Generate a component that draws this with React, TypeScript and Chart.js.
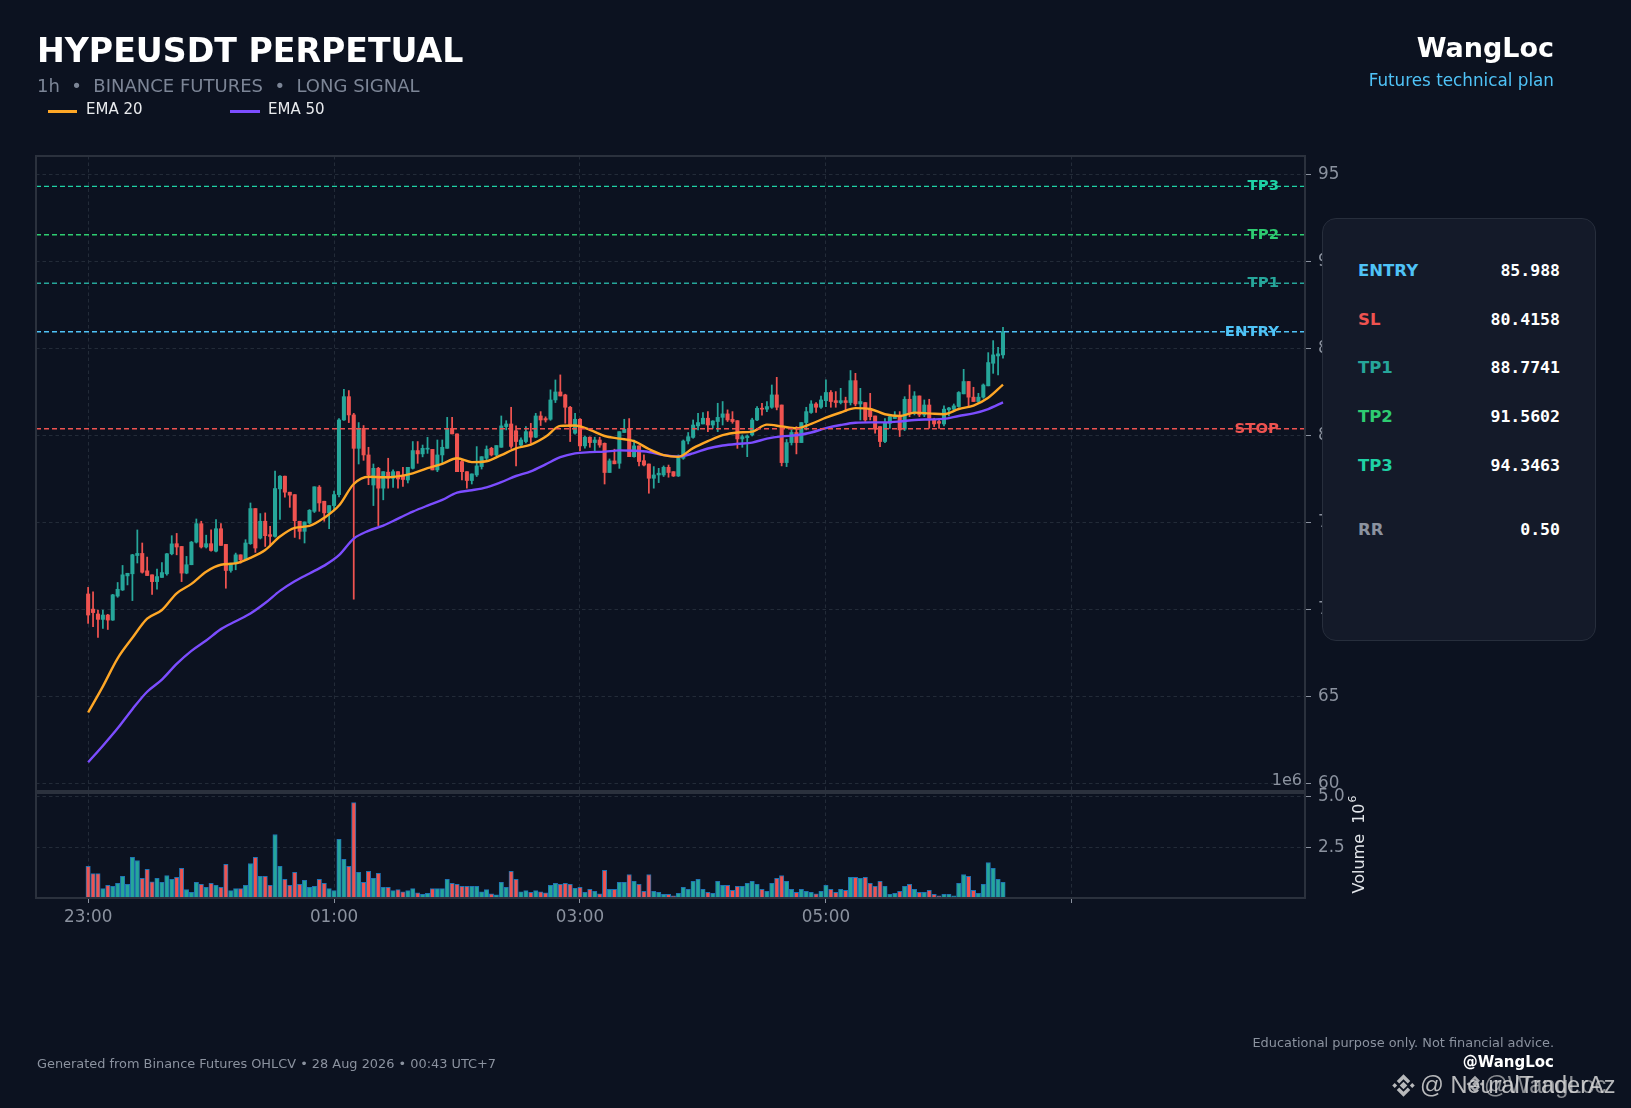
import React, { useEffect, useRef } from 'react';
import { Chart, registerables } from 'chart.js';

Chart.register(...registerables);

// ---------------- DATA ----------------
const OPEN = [
  70.92, 70.05, 69.77, 69.46, 69.71, 69.42, 70.8, 71.15, 71.96, 72.08,
  73.13, 73.25, 72.25, 72.02, 71.63, 71.87, 72.08, 73.23, 73.81, 73.65,
  72.12, 72.6, 73.9, 74.96, 73.62, 73.81, 73.38, 74.67, 73.77, 72.27,
  72.69, 73.17, 72.88, 73.81, 75.83, 74.13, 75.1, 74.33, 74.23, 76.96,
  77.69, 76.77, 76.63, 75.1, 74.52, 75.0, 75.67, 77.06, 76.25, 75.58,
  76.0, 76.63, 80.92, 82.26, 81.21, 79.29, 80.44, 78.91, 77.18, 78.14,
  77.0, 77.92, 77.57, 77.95, 77.7, 77.47, 78.14, 79.16, 78.97, 79.24,
  79.23, 78.05, 78.91, 79.29, 80.44, 80.12, 78.53, 77.95, 77.44, 77.76,
  78.24, 78.72, 79.29, 78.91, 79.35, 80.54, 80.69, 80.3, 79.48, 79.68,
  80.25, 79.93, 81.15, 81.0, 80.96, 82.07, 82.53, 82.36, 81.65, 80.16,
  80.96, 79.43, 79.93, 79.62, 79.77, 79.58, 77.9, 78.57, 78.43, 80.2,
  80.44, 78.81, 79.43, 78.58, 78.39, 77.57, 77.76, 77.76, 78.2, 77.95,
  77.7, 78.72, 79.71, 79.92, 80.58, 80.69, 81.02, 80.63, 80.83, 81.07,
  81.27, 80.96, 80.88, 79.83, 79.9, 80.06, 80.92, 81.59, 81.54, 81.65,
  82.36, 81.78, 78.47, 79.62, 80.2, 79.62, 80.77, 81.35, 81.84, 81.65,
  82.03, 82.5, 82.03, 81.92, 82.03, 81.92, 83.18, 81.84, 81.92, 81.59,
  81.15, 80.54, 79.68, 80.73, 81.0, 81.11, 80.39, 82.11, 81.3, 82.3,
  81.21, 81.78, 80.96, 80.83, 80.69, 81.5, 81.54, 81.69, 82.42, 83.13,
  82.23, 81.98, 82.23, 82.88, 84.18, 84.6, 84.66,
];
const HIGH = [
  71.3, 71.05, 70.0, 70.0, 69.75, 70.9, 71.58, 72.56, 72.11, 73.2,
  74.6, 73.85, 73.04, 72.02, 72.35, 72.73, 73.25, 74.27, 74.4, 73.65,
  73.08, 73.94, 75.23, 75.1, 74.3, 74.6, 75.19, 74.96, 73.77, 72.69,
  73.27, 73.17, 74.04, 76.15, 75.83, 75.54, 75.58, 74.81, 77.98, 77.73,
  77.69, 76.77, 76.63, 75.1, 75.06, 75.77, 77.08, 77.15, 76.25, 76.0,
  76.83, 81.0, 82.68, 82.61, 81.3, 80.77, 80.6, 79.35, 78.39, 78.2,
  77.95, 78.72, 78.05, 77.95, 78.2, 78.2, 79.68, 79.68, 79.48, 79.92,
  79.23, 79.77, 79.77, 81.07, 81.07, 80.12, 78.6, 77.95, 77.82, 79.39,
  78.81, 79.43, 79.35, 79.45, 81.15, 80.88, 81.65, 80.58, 79.9, 80.54,
  80.73, 81.3, 81.4, 81.1, 82.65, 83.22, 83.51, 82.4, 81.7, 81.3,
  81.0, 80.0, 79.95, 79.93, 79.93, 79.6, 78.68, 79.24, 80.25, 80.96,
  81.0, 79.77, 79.43, 78.91, 78.39, 78.24, 78.14, 78.28, 78.33, 77.95,
  78.91, 79.77, 80.2, 80.92, 81.3, 81.34, 81.4, 80.88, 81.88, 81.98,
  81.5, 81.4, 80.88, 80.06, 80.06, 81.02, 81.69, 81.88, 81.98, 82.93,
  83.37, 81.78, 79.8, 80.35, 80.54, 80.77, 81.65, 82.03, 81.92, 82.3,
  83.22, 82.61, 82.55, 82.74, 82.23, 83.76, 83.6, 82.74, 81.92, 82.45,
  81.15, 80.54, 81.0, 81.21, 81.4, 81.4, 82.26, 82.93, 82.55, 82.3,
  82.07, 82.11, 81.02, 81.02, 81.73, 81.65, 81.84, 82.55, 83.83, 83.13,
  82.8, 82.45, 82.99, 84.79, 85.48, 85.1, 86.25,
];
const LOW = [
  69.23, 69.04, 68.42, 68.94, 68.88, 69.4, 70.73, 71.12, 71.44, 70.54,
  72.7, 72.12, 71.98, 70.9, 71.19, 71.87, 72.0, 73.17, 73.17, 71.63,
  72.08, 72.6, 73.85, 73.56, 73.56, 73.38, 73.33, 73.71, 71.25, 72.17,
  72.31, 72.69, 72.85, 73.77, 73.31, 74.08, 73.65, 73.65, 74.19, 75.2,
  76.48, 75.9, 74.17, 74.08, 73.85, 74.95, 75.6, 75.67, 75.1, 74.67,
  75.7, 76.5, 80.9, 80.77, 70.62, 78.39, 78.6, 77.2, 76.0, 74.85,
  76.33, 77.0, 77.05, 77.0, 77.1, 77.3, 78.1, 78.43, 78.8, 79.0,
  78.05, 77.95, 78.4, 79.29, 80.12, 77.95, 77.47, 77.0, 77.24, 77.67,
  78.1, 78.62, 78.85, 78.85, 79.35, 80.35, 79.29, 78.28, 79.4, 79.6,
  79.58, 79.9, 80.6, 80.8, 80.9, 81.92, 82.3, 80.73, 79.68, 80.1,
  79.16, 79.3, 79.35, 79.1, 79.35, 77.24, 77.9, 78.4, 78.14, 80.2,
  78.81, 78.78, 78.28, 78.28, 76.71, 77.0, 77.32, 77.67, 77.63, 77.67,
  77.67, 78.66, 79.54, 79.87, 80.35, 80.69, 80.25, 80.44, 80.25, 80.63,
  80.83, 80.73, 79.29, 79.35, 78.81, 80.0, 80.88, 81.2, 81.4, 81.59,
  81.5, 78.28, 78.24, 79.48, 78.97, 79.62, 80.35, 81.3, 81.35, 81.59,
  81.69, 81.65, 81.65, 81.84, 81.4, 81.78, 81.73, 80.92, 80.83, 80.92,
  80.16, 79.39, 79.62, 80.44, 81.0, 79.97, 80.31, 81.11, 81.21, 81.11,
  81.11, 80.44, 80.54, 80.44, 80.58, 81.15, 81.46, 81.65, 82.42, 81.65,
  81.98, 81.92, 82.17, 82.88, 83.6, 83.51, 84.47,
];
const CLOSE = [
  69.71, 69.85, 69.46, 69.71, 69.42, 70.87, 71.19, 72.02, 72.11, 73.17,
  73.25, 72.17, 71.98, 71.63, 71.92, 72.15, 73.23, 73.8, 73.62, 72.12,
  72.6, 73.9, 74.96, 73.62, 73.81, 73.42, 74.67, 73.71, 72.27, 72.69,
  73.17, 72.88, 73.85, 75.83, 73.56, 75.1, 74.27, 74.23, 76.98, 77.69,
  76.77, 76.6, 75.13, 74.52, 75.06, 75.73, 77.08, 76.15, 75.58, 76.0,
  76.63, 80.92, 82.26, 81.21, 79.29, 80.44, 78.91, 77.76, 78.14, 77.0,
  77.95, 77.57, 77.95, 77.53, 77.5, 78.2, 79.16, 78.97, 79.29, 79.3,
  78.05, 78.91, 79.35, 80.44, 80.12, 77.95, 77.95, 77.44, 77.82, 78.28,
  78.81, 79.24, 78.91, 79.45, 80.58, 80.69, 79.4, 79.68, 79.77, 80.25,
  79.93, 81.15, 80.92, 80.92, 82.07, 82.53, 82.3, 81.65, 80.54, 80.96,
  79.43, 79.93, 79.62, 79.77, 79.48, 77.9, 78.57, 78.4, 80.25, 80.39,
  78.81, 79.43, 78.53, 78.33, 77.57, 77.76, 77.86, 78.2, 77.9, 77.7,
  78.72, 79.71, 79.96, 80.63, 80.77, 81.02, 80.63, 80.86, 81.07, 81.27,
  80.92, 80.83, 79.83, 79.96, 80.0, 80.92, 81.59, 81.54, 81.69, 82.36,
  81.65, 78.47, 79.62, 80.2, 79.62, 80.77, 81.4, 81.84, 81.65, 82.07,
  82.5, 81.98, 81.92, 82.03, 81.92, 83.18, 81.84, 81.98, 80.92, 81.11,
  80.39, 79.68, 80.73, 81.11, 81.11, 80.35, 82.11, 81.27, 82.3, 81.21,
  81.78, 81.02, 80.69, 80.73, 81.54, 81.61, 81.73, 82.5, 83.13, 82.23,
  81.98, 82.23, 82.93, 84.22, 84.66, 84.72, 86.0,
];
const VOLUME_M = [
  1.56, 1.2, 1.2, 0.46, 0.62, 0.57, 0.72, 1.07, 0.67, 2.0,
  1.85, 0.97, 1.41, 0.8, 0.97, 0.77, 1.11, 0.92, 1.02, 1.46,
  0.41, 0.28, 0.77, 0.67, 0.52, 0.72, 0.62, 0.52, 1.66, 0.36,
  0.46, 0.46, 0.62, 1.7, 2.0, 1.07, 1.07, 0.62, 3.13, 1.56,
  0.92, 0.62, 1.26, 0.67, 0.87, 0.52, 0.57, 0.92, 0.72, 0.46,
  0.36, 2.89, 1.9, 1.56, 4.7, 1.26, 0.77, 1.31, 0.97, 1.21,
  0.52, 0.52, 0.36, 0.41, 0.31, 0.36, 0.46, 0.26, 0.18, 0.23,
  0.46, 0.46, 0.46, 0.92, 0.72, 0.67, 0.57, 0.57, 0.57, 0.57,
  0.31, 0.41, 0.21, 0.16, 0.77, 0.52, 1.31, 0.92, 0.31, 0.36,
  0.28, 0.36, 0.31, 0.26, 0.62, 0.72, 0.67, 0.72, 0.67, 0.48,
  0.52, 0.28, 0.43, 0.33, 0.21, 1.36, 0.43, 0.43, 0.77, 0.77,
  1.16, 0.82, 0.67, 0.33, 1.16, 0.33, 0.28, 0.18, 0.18, 0.11,
  0.23, 0.52, 0.43, 0.82, 0.92, 0.43, 0.28, 0.23, 0.82, 0.62,
  0.62, 0.38, 0.57, 0.57, 0.72, 0.82, 0.67, 0.43, 0.33, 0.72,
  0.97, 1.11, 0.82, 0.43, 0.28, 0.43, 0.33, 0.28, 0.21, 0.33,
  0.62, 0.43, 0.28, 0.43, 0.38, 1.02, 1.02, 0.97, 1.02, 0.72,
  0.57, 0.82, 0.57, 0.18, 0.23, 0.33, 0.57, 0.67, 0.43, 0.28,
  0.28, 0.38, 0.18, 0.11, 0.18, 0.18, 0.11, 0.72, 1.16, 1.07,
  0.38, 0.23, 0.67, 1.75, 1.46, 0.92, 0.77,
];
const EMA_X = [
  0, 3, 6, 9, 12, 15, 18, 21, 24, 27, 30, 33, 36, 39, 42, 45, 48, 51, 54, 57,
  60, 63, 66, 69, 72, 75, 78, 81, 84, 87, 90, 93, 96, 99, 102, 105, 108, 111, 114, 117,
  120, 123, 126, 129, 132, 135, 138, 141, 144, 147, 150, 153, 156, 159, 162, 165, 168, 171, 174, 177,
  180, 183, 186,
];
const EMA20 = [
  64.11, 65.61, 67.22, 68.4, 69.5, 70.0, 70.96, 71.5, 72.2, 72.6,
  72.68, 73.0, 73.45, 74.22, 74.72, 74.83, 75.3, 76.0, 77.24, 77.66,
  77.63, 77.68, 77.85, 78.15, 78.4, 78.72, 78.5, 78.55, 78.9, 79.29,
  79.5, 79.95, 80.58, 80.6, 80.35, 80.0, 79.85, 79.7, 79.25, 78.9,
  78.8, 79.3, 79.7, 80.05, 80.2, 80.25, 80.65, 80.55, 80.44, 80.7,
  81.05, 81.35, 81.6, 81.55, 81.25, 81.15, 81.34, 81.3, 81.25, 81.55,
  81.75, 82.2, 82.95,
];
const EMA50 = [
  61.25, 62.2, 63.2, 64.3, 65.3, 66.0, 66.9, 67.65, 68.25, 68.9,
  69.35, 69.8, 70.4, 71.1, 71.65, 72.1, 72.55, 73.15, 74.1, 74.55,
  74.85, 75.25, 75.65, 76.0, 76.33, 76.75, 76.88, 77.05, 77.35, 77.7,
  77.97, 78.37, 78.78, 79.0, 79.07, 79.1, 79.17, 79.15, 79.08, 78.9,
  78.82, 79.0, 79.28, 79.45, 79.55, 79.62, 79.85, 79.98, 80.04, 80.2,
  80.45, 80.63, 80.76, 80.78, 80.78, 80.83, 80.92, 80.95, 80.98, 81.15,
  81.3, 81.55, 81.93,
];
const PRICE_TICKS = [60, 65, 70, 75, 80, 85, 90, 95];
const VOLUME_TICKS = [2.5, 5.0];
const X_TICK_POS = [0, 50, 100, 150, 200];
const X_TICK_LABELS = ['23:00', '01:00', '03:00', '05:00', ''];
const LEVEL_NAMES = ['TP3', 'TP2', 'TP1', 'ENTRY', 'STOP'];
const LEVEL_VALUES = [94.3463, 91.5602, 88.7741, 85.988, 80.4158];
const PANEL_LABELS = ['ENTRY', 'SL', 'TP1', 'TP2', 'TP3', 'RR'];
const PANEL_VALUES = ['85.988', '80.4158', '88.7741', '91.5602', '94.3463', '0.50'];

// axis ranges
const X_MIN = -10.6;
const X_MAX = 247.4;
const PRICE_MIN = 59.54;
const PRICE_MAX = 96.09;
const VOL_MIN = 0;
const VOL_MAX = 5.225;

// ---------------- STYLE ----------------
const BG = '#0c1220';
const UP = '#26a69a';
const DOWN = '#ef5350';
const VOL_EDGE = '#1f74b4';
const GRID = '#232b38';
const TICK_TEXT = '#8b929f';
const FRAME = '#2b313d';
const EMA20_COLOR = '#ffa726';
const EMA50_COLOR = '#7c4dff';
const WATERMARK = 'rgba(222,222,222,0.82)';
const LEVEL_COLORS: Record<string, string> = {
  TP3: '#1fd1a5',
  TP2: '#2ecc71',
  TP1: '#26a69a',
  ENTRY: '#4fc3f7',
  STOP: '#ef5350',
};
const PANEL_COLORS: Record<string, string> = {
  ENTRY: '#4fc3f7',
  SL: '#ef5350',
  TP1: '#26a69a',
  TP2: '#2ecc71',
  TP3: '#1fd1a5',
  RR: '#8b929f',
};
const PANEL_ROW_Y = [271, 320, 368, 417, 466, 530];
const FONT = '"DejaVu Sans", sans-serif';
const MONO = '"DejaVu Sans Mono", monospace';

const decorPlugin = {
  id: 'decor',
  afterDatasetsDraw(chart: any) {
    const { ctx, chartArea } = chart;
    const y = chart.scales.y;
    ctx.save();
    ctx.font = `bold 14.9px ${FONT}`;
    ctx.textAlign = 'right';
    ctx.textBaseline = 'middle';
    LEVEL_NAMES.forEach((n, k) => {
      ctx.fillStyle = LEVEL_COLORS[n];
      ctx.fillText(n, chartArea.right - 26, y.getPixelForValue(LEVEL_VALUES[k]));
    });
    ctx.restore();
  },
  afterDraw(chart: any) {
    const { ctx, chartArea } = chart;
    const y = chart.scales.y;
    const yv = chart.scales.yv;
    ctx.save();
    ctx.strokeStyle = FRAME;
    ctx.lineWidth = 2;
    const w = chartArea.right - chartArea.left;
    ctx.strokeRect(chartArea.left, y.top, w, y.bottom - y.top - 1);
    ctx.strokeRect(chartArea.left, yv.top + 1, w, yv.bottom - yv.top - 1);

    // offset text
    ctx.fillStyle = TICK_TEXT;
    ctx.font = `16px ${FONT}`;
    ctx.textAlign = 'right';
    ctx.textBaseline = 'middle';
    ctx.fillText('1e6', chartArea.right - 3, y.bottom - 11);

    // volume axis title
    const cy = (yv.top + yv.bottom) / 2;
    ctx.translate(chartArea.right + 55, cy);
    ctx.rotate(-Math.PI / 2);
    ctx.fillStyle = '#e3e6ea';
    ctx.textAlign = 'left';
    ctx.textBaseline = 'middle';
    const main = 'Volume  10';
    ctx.font = `16px ${FONT}`;
    const mw = ctx.measureText(main).width;
    ctx.font = `11px ${FONT}`;
    const sw = ctx.measureText('6').width;
    const start = -(mw + sw) / 2;
    ctx.font = `16px ${FONT}`;
    ctx.fillText(main, start, 0);
    ctx.font = `11px ${FONT}`;
    ctx.fillText('6', start + mw + 1, -7);
    ctx.restore();
  },
};

function BinanceMark({ left, top, size, opacity }: { left: number; top: number; size: number; opacity: number }) {
  return (
    <svg
      width={size}
      height={size}
      viewBox="0 0 24 24"
      style={{ position: 'absolute', left, top, opacity }}
    >
      <g fill={WATERMARK}>
        <polygon points="12,8.6 15.4,12 12,15.4 8.6,12" />
        <polygon points="4.2,9.8 6.4,12 4.2,14.2 2,12" />
        <polygon points="19.8,9.8 22,12 19.8,14.2 17.6,12" />
        <polygon points="12,2 18,8 15.8,10.2 12,6.4 8.2,10.2 6,8" />
        <polygon points="12,22 18,16 15.8,13.8 12,17.6 8.2,13.8 6,16" />
      </g>
    </svg>
  );
}

export default function App() {
  const ref = useRef<HTMLCanvasElement>(null);

  useEffect(() => {
    document.body.style.margin = '0';
    document.body.style.background = BG;
    Chart.defaults.font.family = FONT;

    const idx = CLOSE.map((_, i) => i);
    const up = idx.map((i) => CLOSE[i] >= OPEN[i]);
    const colors = up.map((u) => (u ? UP : DOWN));

    const levelSets = LEVEL_NAMES.map((name, k) => ({
      type: 'line',
      label: name,
      data: [
        { x: X_MIN, y: LEVEL_VALUES[k] },
        { x: X_MAX, y: LEVEL_VALUES[k] },
      ],
      borderColor: LEVEL_COLORS[name],
      borderWidth: 1.4,
      borderDash: [5, 3],
      pointRadius: 0,
      yAxisID: 'y',
      order: 1,
    }));

    const chart = new Chart(ref.current as HTMLCanvasElement, {
      type: 'bar',
      data: {
        datasets: [
          ...levelSets,
          {
            type: 'line',
            label: 'EMA 20',
            data: EMA_X.map((x, k) => ({ x, y: EMA20[k] })),
            borderColor: EMA20_COLOR,
            borderWidth: 2.4,
            pointRadius: 0,
            cubicInterpolationMode: 'monotone',
            yAxisID: 'y',
            order: 2,
          },
          {
            type: 'line',
            label: 'EMA 50',
            data: EMA_X.map((x, k) => ({ x, y: EMA50[k] })),
            borderColor: EMA50_COLOR,
            borderWidth: 2.4,
            pointRadius: 0,
            cubicInterpolationMode: 'monotone',
            yAxisID: 'y',
            order: 3,
          },
          {
            type: 'bar',
            label: 'body',
            data: idx.map((i) => ({ x: i, y: [OPEN[i], CLOSE[i]] })),
            backgroundColor: colors,
            borderWidth: 0,
            barThickness: 3.4,
            minBarLength: 1,
            grouped: false,
            yAxisID: 'y',
            order: 4,
          },
          {
            type: 'bar',
            label: 'wick',
            data: idx.map((i) => ({ x: i, y: [LOW[i], HIGH[i]] })),
            backgroundColor: colors,
            borderWidth: 0,
            barThickness: 1.1,
            grouped: false,
            yAxisID: 'y',
            order: 5,
          },
          {
            type: 'bar',
            label: 'volume',
            data: idx.map((i) => ({ x: i, y: VOLUME_M[i] })),
            backgroundColor: colors,
            borderColor: VOL_EDGE,
            borderWidth: 1,
            borderSkipped: false,
            barThickness: 4.4,
            grouped: false,
            yAxisID: 'yv',
            order: 4,
          },
        ] as any,
      },
      options: {
        responsive: false,
        animation: false,
        events: [],
        layout: { padding: { left: 36, top: 156, right: 236, bottom: 170 } },
        plugins: { legend: { display: false }, tooltip: { enabled: false } },
        scales: {
          x: {
            type: 'linear',
            min: X_MIN,
            max: X_MAX,
            offset: false,
            afterBuildTicks: (s: any) => {
              s.ticks = X_TICK_POS.map((v) => ({ value: v }));
            },
            afterFit: (s: any) => {
              s.height = 40;
            },
            grid: {
              offset: false,
              color: GRID,
              lineWidth: 1,
              tickLength: 5,
              tickColor: TICK_TEXT,
            },
            border: { display: false, dash: [3.5, 3] },
            ticks: {
              autoSkip: false,
              maxRotation: 0,
              padding: 5,
              color: TICK_TEXT,
              font: { size: 16.8, family: FONT },
              callback: (v: any) => {
                const k = X_TICK_POS.indexOf(Number(v));
                return k >= 0 ? X_TICK_LABELS[k] : '';
              },
            },
          },
          y: {
            type: 'linear',
            position: 'right',
            stack: 'panes',
            stackWeight: 636,
            min: PRICE_MIN,
            max: PRICE_MAX,
            afterBuildTicks: (s: any) => {
              s.ticks = PRICE_TICKS.map((v) => ({ value: v }));
            },
            afterFit: (s: any) => {
              s.width = 90;
            },
            grid: {
              color: GRID,
              lineWidth: 1,
              tickLength: 6,
              tickColor: TICK_TEXT,
            },
            border: { display: false, dash: [3.5, 3] },
            ticks: {
              padding: 7,
              color: TICK_TEXT,
              font: { size: 16.8, family: FONT },
              callback: (v: any) => String(v),
            },
          },
          yv: {
            type: 'linear',
            position: 'right',
            stack: 'panes',
            stackWeight: 106,
            min: VOL_MIN,
            max: VOL_MAX,
            afterBuildTicks: (s: any) => {
              s.ticks = VOLUME_TICKS.map((v) => ({ value: v }));
            },
            afterFit: (s: any) => {
              s.width = 90;
            },
            grid: {
              color: GRID,
              lineWidth: 1,
              tickLength: 6,
              tickColor: TICK_TEXT,
            },
            border: { display: false, dash: [3.5, 3] },
            ticks: {
              padding: 7,
              color: TICK_TEXT,
              font: { size: 16.8, family: FONT },
              callback: (v: any) => Number(v).toFixed(1),
            },
          },
        },
      } as any,
      plugins: [decorPlugin],
    });
    return () => chart.destroy();
  }, []);

  const abs = (o: React.CSSProperties): React.CSSProperties => ({
    position: 'absolute',
    lineHeight: 1,
    whiteSpace: 'nowrap',
    ...o,
  });

  return (
    <div
      style={{
        position: 'absolute',
        left: 0,
        top: 0,
        width: 1631,
        height: 1108,
        background: BG,
        overflow: 'hidden',
        fontFamily: FONT,
      }}
    >
      <canvas
        ref={ref}
        width={1631}
        height={1108}
        style={{ position: 'absolute', left: 0, top: 0, width: 1631, height: 1108 }}
      />

      {/* header */}
      <div style={abs({ left: 37, top: 34, fontSize: 33.2, fontWeight: 'bold', color: '#ffffff' })}>
        HYPEUSDT PERPETUAL
      </div>
      <div style={abs({ left: 37, top: 77, fontSize: 18, color: '#7c8596' })}>
        1h&nbsp;&nbsp;•&nbsp;&nbsp;BINANCE FUTURES&nbsp;&nbsp;•&nbsp;&nbsp;LONG SIGNAL
      </div>
      <div style={abs({ left: 48, top: 110, width: 29, height: 3, background: EMA20_COLOR })} />
      <div style={abs({ left: 86, top: 102, fontSize: 15, color: '#e8eaed' })}>EMA 20</div>
      <div style={abs({ left: 230, top: 110, width: 30, height: 3, background: EMA50_COLOR })} />
      <div style={abs({ left: 268, top: 102, fontSize: 15, color: '#e8eaed' })}>EMA 50</div>

      <div style={abs({ right: 1631 - 1554, top: 34, fontSize: 27, fontWeight: 'bold', color: '#ffffff' })}>
        WangLoc
      </div>
      <div style={abs({ right: 1631 - 1554, top: 72, fontSize: 16.8, color: '#4fc3f7' })}>
        Futures technical plan
      </div>

      {/* info panel */}
      <div
        style={{
          position: 'absolute',
          left: 1322,
          top: 218,
          width: 274,
          height: 423,
          boxSizing: 'border-box',
          background: '#141a29',
          border: '1.5px solid #272e3c',
          borderRadius: 14,
        }}
      />
      {PANEL_LABELS.map((lab, k) => (
        <React.Fragment key={lab}>
          <div
            style={abs({
              left: 1358,
              top: PANEL_ROW_Y[k] - 8,
              fontSize: 16.5,
              fontWeight: 'bold',
              color: PANEL_COLORS[lab],
            })}
          >
            {lab}
          </div>
          <div
            style={abs({
              right: 1631 - 1560,
              top: PANEL_ROW_Y[k] - 8,
              fontSize: 16.5,
              fontWeight: 'bold',
              fontFamily: MONO,
              color: '#ffffff',
            })}
          >
            {PANEL_VALUES[k]}
          </div>
        </React.Fragment>
      ))}

      {/* footer */}
      <div style={abs({ left: 37, top: 1058, fontSize: 12.9, color: '#8b929f' })}>
        Generated from Binance Futures OHLCV • 28 Aug 2026 • 00:43 UTC+7
      </div>
      <div style={abs({ right: 1631 - 1554, top: 1037, fontSize: 12.9, color: '#8b929f' })}>
        Educational purpose only. Not financial advice.
      </div>
      <div style={abs({ right: 1631 - 1554, top: 1055, fontSize: 15, fontWeight: 'bold', color: '#ffffff' })}>
        @WangLoc
      </div>
      <BinanceMark left={1390} top={1072} size={27} opacity={1} />
      <div
        style={abs({
          left: 1420,
          top: 1074,
          fontSize: 23.5,
          fontFamily: '"Liberation Sans", sans-serif',
          color: WATERMARK,
        })}
      >
        @ NeuralTraderAz
      </div>
      <BinanceMark left={1465} top={1074} size={20} opacity={0.9} />
      <div
        style={abs({
          left: 1484,
          top: 1074,
          fontSize: 23.5,
          fontFamily: '"Liberation Sans", sans-serif',
          color: 'rgba(222,222,222,0.6)',
        })}
      >
        @WangLoc
      </div>
    </div>
  );
}
